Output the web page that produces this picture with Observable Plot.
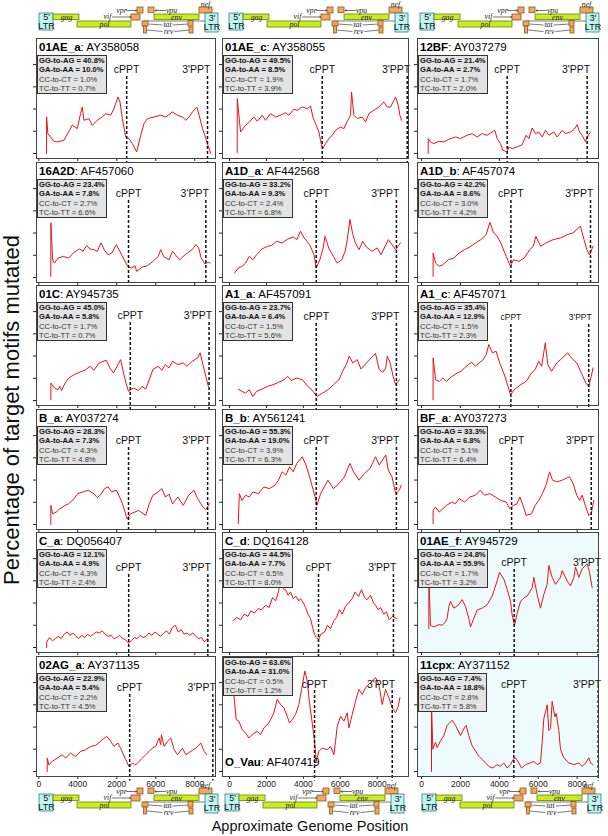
<!DOCTYPE html>
<html><head><meta charset="utf-8">
<script src="https://cdn.jsdelivr.net/npm/d3@7"></script>
<script src="https://cdn.jsdelivr.net/npm/@observablehq/plot@0.6"></script>
<style>
body{margin:0;background:#fff;font-family:"Liberation Sans",Arial,sans-serif;}
#chart{position:relative;width:608px;height:836px;overflow:hidden;background:#fff;}
.title{font-size:11.5px;line-height:14px;white-space:nowrap;color:#000;}
.stats{font-size:7.6px;line-height:9.3px;background:#e3e3e3;border:1px solid #333;padding:0 1px;white-space:nowrap;color:#333;}
.stats b{color:#111;}
.axlab{font-size:14.5px;white-space:nowrap;color:#111;}
</style></head><body><div id="chart"></div>
<script>
// ---------------- data ----------------
const subtypes = ["01AE_a","01AE_c","12BF","16A2D","A1D_a","A1D_b","01C","A1_a","A1_c","B_a","B_b","BF_a","C_a","C_d","01AE_f","02AG_a","O_Vau","11cpx"];
const accessions = ["AY358058","AY358055","AY037279","AF457060","AF442568","AF457074","AY945735","AF457091","AF457071","AY037274","AY561241","AY037273","DQ056407","DQ164128","AY945729","AY371135","AF407419","AY371152"];
const ggToAg = ["40.8","49.5","21.4","23.4","33.2","42.2","45.0","23.7","35.4","28.3","55.3","33.3","12.1","44.5","24.8","22.9","63.6","7.4"];
const gaToAa = ["10.0","8.5","2.7","7.8","9.3","8.6","5.8","6.4","12.9","7.3","19.0","6.8","4.9","7.7","55.9","5.4","31.0","18.8"];
const ccToCt = ["1.0","1.9","1.7","2.7","2.4","3.0","1.7","1.5","1.5","4.3","3.9","5.1","4.3","6.5","1.7","2.2","0.5","2.8"];
const tcToTt = ["0.7","3.9","2.0","6.6","6.8","4.2","0.7","5.6","2.3","4.8","6.3","6.4","2.4","8.0","3.2","4.5","1.2","5.8"];
const cpptPos = [4507,5022,4403,4601,4697,4594,4692,4697,4594,4601,4697,4631,4610,4821,4762,4661,4606,4745];
const ppt3Pos = [8652,9626,8514,8566,9040,8686,8732,9040,8593,8658,9040,8723,8670,8880,9079,8926,8814,9079];
const shadedPanels = ["01AE_f","11cpx"];
const yTicks = [0,20,40,60,80];
const xTicks = [0,2000,4000,6000,8000];
const xTickLabelsCol1 = ["0","4000","2000","6000","8000"];
const xTickLabels = ["0","2000","4000","6000","8000"];

const pos_01AE_a = [396,400,464,773,944,1287,1715,1972,2143,2229,2315,2571,2742,2999,3256,3428,3685,3856,4061,4164,4284,4455,4627,4798,5021,5226,5398,5569,5912,6254,6511,6854,7111,7368,7539,7710,7881,8104,8224,8395,8566,8703,8823];
const pct_01AE_a = [0,32.9,17.9,11.0,10.4,11.9,25.4,22.4,35.9,41.9,29.9,31.4,25.4,29.9,32.9,35.9,34.4,40.4,50.9,46.4,31.4,14.9,13.4,8.9,1.4,16.4,26.9,31.4,32.9,34.4,32.9,37.4,34.4,32.9,29.9,32.9,37.4,41.9,34.4,22.4,13.4,5.9,0];
const pos_01AE_c = [416,420,597,867,1048,1319,1500,1770,1951,2222,2493,2764,3035,3215,3486,3667,3938,4209,4389,4516,4660,4841,4985,5057,5202,5382,5563,5744,6014,6195,6376,6556,6610,6737,6917,7188,7369,7550,7820,8091,8362,8543,8724,8994,9139,9229,9319];
const pct_01AE_c = [0.8,49.4,19.4,25.4,27.8,32.9,29.0,34.4,29.9,35.9,32.9,34.4,36.8,34.4,39.8,38.9,41.9,40.4,42.8,32.9,26.9,19.4,7.4,4.4,8.9,13.4,16.4,20.9,23.9,22.4,29.0,34.4,55.4,34.4,31.4,32.9,28.4,35.9,38.9,41.9,46.4,41.9,41.9,50.9,43.4,34.4,29.9];
const pos_12BF = [343,347,463,634,891,1148,1405,1748,2004,2347,2604,2861,3118,3375,3769,3889,4060,4180,4403,4488,4660,4917,5174,5379,5516,5687,5859,6030,6201,6373,6544,6801,6972,7229,7400,7657,7829,8000,8120,8257,8428,8565,8685];
const pct_12BF = [0,13.4,10.4,8.9,11.0,10.4,12.8,14.9,13.4,16.4,17.9,14.9,17.9,16.4,20.9,13.4,8.9,2.9,1.4,5.9,4.4,5.9,8.0,16.4,13.4,22.9,17.9,19.4,14.9,20.9,16.4,19.4,14.9,20.9,17.9,19.4,21.4,26.0,19.4,16.4,10.4,16.4,19.4];
const pos_16A2D = [616,620,708,800,984,1259,1534,1810,2085,2269,2452,2636,2820,3003,3187,3370,3554,3738,3976,4197,4380,4564,4747,4931,5023,5298,5574,5849,6124,6253,6400,6675,6859,7042,7226,7501,7869,8052,8199,8328,8511,8695,8787];
const pct_16A2D = [0.9,49.2,16.0,13.0,17.5,19.0,17.5,22.7,25.7,23.6,28.7,25.7,25.1,23.6,31.1,24.5,20.5,22.0,29.6,22.0,16.0,10.0,8.5,10.6,5.4,9.4,10.6,14.5,19.0,25.1,19.0,16.0,23.6,19.6,16.0,20.5,25.1,29.6,26.6,17.5,12.4,13.6,13.0];
const pos_A1D_a = [274,473,671,869,1068,1266,1464,1762,2059,2257,2555,2852,3150,3447,3645,3844,4042,4340,4578,4697,4895,5073,5172,5371,5629,5827,6085,6263,6382,6521,6680,6818,7017,7215,7413,7711,8008,8206,8603,8801,8999,9257];
const pct_A1D_a = [3.9,8.5,10.0,13.0,19.0,16.0,20.5,25.7,28.1,28.7,32.6,31.1,34.7,36.5,34.1,41.7,35.6,29.6,20.5,8.5,16.0,26.6,37.1,26.6,19.0,13.0,16.0,23.6,34.1,52.2,38.7,31.1,25.1,32.6,27.5,23.6,26.6,20.5,34.1,29.6,25.1,31.1];
const pos_A1D_b = [595,600,725,911,1097,1376,1655,1934,2213,2492,2771,3050,3329,3515,3701,3887,4073,4352,4575,4724,5003,5282,5561,5747,5877,6119,6398,6770,7142,7514,7793,8165,8351,8500,8630,8816];
const pct_A1D_b = [0.9,22.0,13.0,10.0,11.5,16.0,17.5,22.0,25.1,27.5,31.1,34.1,38.7,49.8,40.2,37.1,31.1,19.0,10.0,16.0,14.5,17.5,25.1,28.1,37.1,28.1,31.1,34.1,35.6,38.7,40.2,46.2,34.1,25.1,20.5,28.1];
const pos_01C = [616,620,800,984,1075,1167,1351,1534,1810,2085,2361,2636,2820,3095,3462,3646,3829,4197,4343,4472,4601,4839,5115,5298,5482,5665,5849,6124,6308,6492,6675,6859,7134,7410,7593,7869,8144,8273,8419,8566,8695];
const pct_01C = [0.6,15.7,11.2,9.7,12.7,9.1,15.7,20.2,23.3,25.4,27.2,30.8,27.2,33.8,36.2,29.3,24.8,36.8,24.8,15.7,8.2,11.2,9.1,12.7,10.3,18.7,27.8,30.8,27.2,32.3,29.3,35.3,32.3,33.8,30.8,35.3,38.4,42.9,32.3,21.7,12.7];
const pos_A1_a = [473,671,869,1068,1266,1464,1762,2059,2357,2654,2951,3150,3348,3645,3943,4240,4538,4736,5034,5331,5629,5926,6124,6323,6481,6680,6917,7116,7413,7909,8107,8305,8464,8543,8702,8861,9000,9198];
const pct_A1_a = [10.3,8.2,6.6,9.7,3.6,8.2,10.3,12.7,14.2,16.3,18.7,21.7,18.1,20.2,18.7,12.7,8.2,3.6,6.6,9.7,14.2,18.7,26.3,32.3,39.9,33.8,36.8,28.4,33.8,42.3,27.8,25.4,29.3,39.9,33.8,21.7,14.2,18.7];
const pos_A1_c = [595,600,725,911,1097,1283,1562,1841,2027,2213,2399,2585,2771,2957,3143,3329,3459,3645,3831,4017,4259,4445,4575,4761,5096,5375,5654,5840,6026,6175,6361,6491,6677,6956,7142,7514,7700,7979,8258,8444,8593,8723,8816];
const pct_A1_c = [0.6,38.4,18.7,17.2,20.2,17.2,21.7,24.8,26.3,29.3,32.3,34.4,30.8,33.8,36.2,41.4,50.4,42.9,44.4,33.8,23.3,12.7,5.1,9.7,14.2,17.2,24.8,27.8,35.3,30.8,51.9,32.3,26.3,33.8,36.8,42.9,38.4,33.8,23.3,15.7,12.7,21.7,29.3];
const pos_B_a = [616,620,708,892,1075,1351,1534,1810,1993,2269,2544,2820,3003,3187,3370,3554,3738,3976,4105,4288,4527,4711,4931,5115,5482,5665,5849,6124,6308,6492,6675,6859,7134,7410,7685,7960,8144,8419,8566,8750];
const pct_B_a = [0,17.2,9.7,11.2,14.2,17.2,18.7,23.3,27.8,29.3,30.8,27.8,24.2,27.2,32.3,33.8,29.3,30.8,26.3,18.7,5.1,9.7,11.2,12.7,8.2,18.7,26.3,29.3,32.3,24.8,27.2,18.7,24.8,17.2,26.3,30.8,23.3,15.7,13.3,18.7];
const pos_B_b = [473,532,671,869,1068,1266,1563,1861,2158,2456,2654,2852,3051,3249,3447,3645,3943,4141,4340,4637,4736,4934,5133,5331,5629,5926,6223,6521,6719,7017,7314,7611,7909,8107,8464,8603,8801,9000,9198,9297];
const pct_B_b = [0.6,27.8,21.7,26.3,24.8,29.3,27.8,33.8,32.3,35.3,39.9,47.4,44.4,51.9,47.4,55.0,61.0,53.5,42.9,24.8,17.2,27.8,33.8,39.9,32.3,36.8,42.9,55.0,47.4,39.9,45.9,50.4,61.0,53.5,62.5,48.9,42.9,27.8,30.8,35.3];
const pos_BF_a = [595,600,725,911,1097,1283,1562,1748,1934,2213,2492,2771,3013,3236,3515,3794,4073,4352,4538,4724,4910,5059,5245,5375,5654,5840,6026,6212,6398,6584,6733,6956,7235,7607,7793,7979,8128,8258,8444,8593,8723,8853];
const pct_BF_a = [0.6,12.7,15.7,11.2,14.2,17.2,20.2,18.7,23.3,20.2,24.8,26.3,30.8,26.3,27.8,24.8,21.7,20.2,14.2,17.2,18.7,24.8,15.7,8.2,9.7,17.2,21.7,27.8,35.3,47.4,39.9,38.4,39.9,42.9,36.8,26.3,21.7,26.3,15.7,8.2,9.7,21.7];
const pos_C_a = [400,405,550,700,850,1000,1150,1300,1450,1600,1750,1900,2050,2200,2350,2500,2650,2800,2950,3100,3250,3400,3550,3700,3850,4000,4150,4300,4450,4600,4750,4900,5050,5200,5350,5500,5650,5800,5950,6100,6250,6400,6550,6700,6850,7000,7150,7300,7450,7600,7750,7900,8050,8200,8350,8500,8650];
const pct_C_a = [0,5,9,6,8,10,8,12,14,11,13,10,8,11,9,12,10,12,14,13,15,12,10,11,8,9,11,8,7,4,6,9,8,11,9,10,13,11,14,12,10,13,15,12,18,20,14,16,12,13,11,13,10,8,9,5,8];
const pos_C_d = [170,400,600,800,1000,1150,1350,1550,1750,1950,2150,2330,2500,2650,2760,2900,3030,3180,3300,3450,3600,3750,3850,4000,4120,4250,4390,4500,4600,4700,4820,4950,5150,5300,5470,5650,5800,5950,6100,6280,6450,6650,6800,6990,7150,7310,7450,7640,7800,7910,8050,8180,8350,8500,8650,8830,9050];
const pct_C_d = [24,27,25,30,28,33,31,35,34,38,36,45,42,50,60,53,52,47,50,44,46,42,44,40,36,30,26,18,12,9,7,12,14,20,17,24,27,34,30,37,40,44,50,46,52,45,43,47,40,38,34,36,30,32,25,28,26];
const pos_01AE_f = [377,380,463,634,891,1062,1234,1319,1405,1491,1662,1919,2090,2261,2433,2518,2690,2861,3118,3375,3632,3889,4009,4231,4403,4574,4660,4780,4917,5088,5259,5430,5687,5773,5944,6116,6287,6458,6544,6715,6887,7143,7229,7486,7657,7829,7914,8086,8257,8514,8634,8771];
const pct_01AE_f = [16.9,63.1,20.0,18.5,20.6,20.0,23.1,26.2,36.9,41.5,35.4,38.5,43.1,36.9,26.2,18.5,26.2,33.8,35.4,38.5,46.2,60.0,67.7,61.5,52.3,41.5,29.2,20.0,30.8,41.5,44.6,46.2,53.8,63.1,47.7,35.4,47.7,56.9,73.8,63.1,56.9,63.1,69.2,60.0,55.4,63.1,72.3,63.1,70.8,75.4,67.7,53.8];
const pos_02AG_a = [430,435,516,687,944,1201,1372,1629,1886,2143,2400,2657,2914,3171,3479,3685,3856,4061,4233,4455,4627,4798,4969,5141,5312,5483,5655,5826,5997,6168,6254,6288,6425,6597,6768,6939,7111,7368,7539,7796,8053,8310,8481,8618];
const pct_02AG_a = [0,12.1,6.0,9.1,12.1,15.1,12.1,16.6,13.6,18.1,19.6,22.6,23.5,27.2,31.7,27.2,22.6,25.6,19.6,10.6,4.5,7.5,6.0,9.1,12.1,15.1,18.1,21.1,22.6,30.2,24.1,33.2,22.6,27.2,30.2,19.6,15.1,21.1,15.1,18.1,21.1,25.6,18.1,15.1];
const pos_O_Vau = [181,235,362,506,687,867,1048,1229,1500,1680,1861,2132,2403,2583,2764,2944,3125,3251,3396,3576,3757,3901,4082,4209,4335,4479,4606,4696,4841,5021,5292,5473,5653,5744,5834,6015,6195,6376,6466,6647,6827,7008,7188,7369,7640,7911,8091,8272,8453,8633,8814,8994,9139,9229];
const pct_O_Vau = [84.5,69.4,46.8,45.3,37.7,34.7,30.2,33.2,36.2,33.2,39.2,43.7,52.8,64.9,60.3,57.3,49.8,43.7,46.8,51.3,60.3,73.9,90.5,81.5,61.8,43.7,27.2,9.1,18.1,21.1,19.6,22.6,15.1,27.2,40.7,49.8,45.3,52.8,39.2,51.3,63.4,73.9,69.4,75.4,80.0,84.5,78.4,60.3,73.9,66.4,57.3,52.8,58.8,66.4];
const pos_11cpx = [514,518,583,720,805,977,1148,1319,1491,1576,1748,1919,2004,2227,2296,2433,2604,2775,2947,3118,3289,3461,3666,3889,4060,4231,4403,4574,4711,4831,5002,5139,5345,5602,5773,5944,6116,6201,6287,6373,6458,6544,6630,6715,6852,6921,7058,7143,7315,7572,7829,8086,8257,8428,8600,8685,8805];
const pct_11cpx = [0,58.5,20.0,26.2,21.5,27.7,32.3,41.5,44.6,46.2,41.5,35.4,32.3,40.0,41.5,32.3,23.1,18.5,13.8,10.8,7.7,4.6,3.1,6.2,4.6,7.7,3.1,6.2,10.8,12.3,7.7,3.1,6.2,7.7,9.2,6.2,7.7,26.2,47.7,53.8,60.0,36.9,38.5,63.1,49.2,52.3,36.9,20.0,12.3,7.7,6.2,7.7,4.6,7.7,12.3,7.7,6.2];

const traces = {
  "01AE_a":[pos_01AE_a,pct_01AE_a],"01AE_c":[pos_01AE_c,pct_01AE_c],"12BF":[pos_12BF,pct_12BF],
  "16A2D":[pos_16A2D,pct_16A2D],"A1D_a":[pos_A1D_a,pct_A1D_a],"A1D_b":[pos_A1D_b,pct_A1D_b],
  "01C":[pos_01C,pct_01C],"A1_a":[pos_A1_a,pct_A1_a],"A1_c":[pos_A1_c,pct_A1_c],
  "B_a":[pos_B_a,pct_B_a],"B_b":[pos_B_b,pct_B_b],"BF_a":[pos_BF_a,pct_BF_a],
  "C_a":[pos_C_a,pct_C_a],"C_d":[pos_C_d,pct_C_d],"01AE_f":[pos_01AE_f,pct_01AE_f],
  "02AG_a":[pos_02AG_a,pct_02AG_a],"O_Vau":[pos_O_Vau,pct_O_Vau],"11cpx":[pos_11cpx,pct_11cpx]
};

// genome map (schematic units)
const mapGenes = [
  {name:"5'LTR",kind:"ltr",x1:0,x2:14,y1:13,y2:30},
  {name:"gag",kind:"orf",x1:14,x2:40,y1:14,y2:19.5},
  {name:"pol",kind:"orf",x1:38,x2:92,y1:21,y2:27},
  {name:"vif",kind:"acc",x1:92,x2:101,y1:14,y2:20},
  {name:"vpr",kind:"acc",x1:98,x2:104,y1:7,y2:13},
  {name:"tat1",kind:"acc",x1:103,x2:109,y1:21,y2:26},
  {name:"rev1",kind:"acc",x1:104.5,x2:107.5,y1:26,y2:33},
  {name:"vpu",kind:"acc",x1:109,x2:115,y1:7,y2:12.5},
  {name:"env",kind:"orf",x1:115,x2:160,y1:14,y2:19.5},
  {name:"tat2",kind:"acc",x1:149,x2:154,y1:20.5,y2:26},
  {name:"rev2",kind:"acc",x1:150,x2:154,y1:27,y2:33},
  {name:"nef",kind:"acc",x1:160,x2:173,y1:7,y2:13},
  {name:"3'LTR",kind:"ltr",x1:166,x2:179,y1:13,y2:32}
];
const mapItalicLabels = [
  {t:"gag",x:27,y:16.9},{t:"pol",x:65,y:24.2},{t:"env",x:137,y:16.9},
  {t:"vif",x:68,y:16},{t:"vpr",x:82,y:9.5},{t:"vpu",x:132,y:9.5},
  {t:"nef",x:166,y:3.5},{t:"tat",x:128,y:23.8},{t:"rev",x:129,y:31.2}
];
const mapLtrLabels = [{t:"5'\nLTR",x:7,y:21.5},{t:"3'\nLTR",x:172.5,y:22.5}];
const mapArrows = [{x1:73,y1:16.5,x2:91.5,y2:16.5},{x1:87,y1:10,x2:97.5,y2:10},{x1:126,y1:10,x2:115.5,y2:10}];
const mapLinks = [{x1:104,y1:20.5,x2:166,y2:20.5},{x1:109,y1:23.5,x2:123,y2:24.5},{x1:133,y1:24.5,x2:149,y2:23.5},
  {x1:107.5,y1:29.5,x2:123,y2:31},{x1:135,y1:31,x2:150,y2:29.5}];

// ---------------- layout ----------------
const chart = document.getElementById("chart");
const colFrame = [[36,215],[222,408],[417,598]];
const colDomain = [[-118,9062],[-380,9695],[-205,9096]];
const FH = 120;
const yDomain = [-4.5,103.5];
const pxPerUnit = (yDomain[1]-yDomain[0])/FH;
const labelOff = [31,31,31, 31,31,31, 30,31,32, 31,31,31, 35,35,30, 31,28,28];
const lineOff  = [38,38,38, 38,38,38, 37,38,39, 38,38,38, 42,42,37, 38,34,34];
const labelSize = subtypes.map(s => s==="A1_c" ? 8.5 : 10.5);
const FONT = "Liberation Sans, Arial, sans-serif";

function place(el, left, top){ el.style.position="absolute"; el.style.left=left+"px"; el.style.top=top+"px"; chart.appendChild(el); return el; }

subtypes.forEach((name,i)=>{
  const r = Math.floor(i/3), c = i%3;
  const [fl, fr] = colFrame[c];
  const top = Math.round(38 + 123.6*r);
  const bottomRow = r===5;
  const mL = 4, mB = bottomRow ? 16 : 4;
  const [px, py] = traces[name];
  const rows = px.map((p,k)=>({bp:p, pct:py[k]}));
  const bg = shadedPanels.includes(name) ? "#edfbfc" : "#ffffff";
  const labs = c===0 ? xTickLabelsCol1 : xTickLabels;
  const labMap = new Map(xTicks.map((t,k)=>[t,labs[k]]));
  const vAt = off => yDomain[1] - off*pxPerUnit;
  const svg = Plot.plot({
    width: fr-fl+mL, height: FH+mB,
    marginLeft:mL, marginRight:0, marginTop:0, marginBottom:mB,
    x:{domain:colDomain[c]}, y:{domain:yDomain},
    style:{background:"transparent", overflow:"visible", fontFamily:FONT, color:"#222"},
    marks:[
      Plot.frame({fill:bg, stroke:"none"}),
      Plot.axisY({ticks:yTicks, tickSize:3, tickFormat:()=>"", label:null}),
      Plot.axisX({ticks:xTicks, tickSize:3, tickPadding:1, fontSize:8.5, label:null,
                  tickFormat: bottomRow ? (d=>labMap.get(d)) : (()=>"")}),
      Plot.line(rows,{x:"bp", y:"pct", stroke:"#e8141c", strokeWidth:1}),
      Plot.ruleX([cpptPos[i], ppt3Pos[i]],{x:d=>d, y1:vAt(lineOff[i]), y2:yDomain[0]-4, stroke:"#111", strokeWidth:1.5, strokeDasharray:"3,2"}),
      Plot.text([cpptPos[i]],{x:d=>d, frameAnchor:"top", dy:labelOff[i], lineAnchor:"middle", text:()=>"cPPT", fontSize:labelSize[i], fill:"#111"}),
      Plot.text([ppt3Pos[i]],{x:d=>d, frameAnchor:"top", dy:labelOff[i], lineAnchor:"middle", text:()=>"3'PPT", fontSize:labelSize[i], textAnchor:"end", dx:3, fill:"#111"}),
      Plot.frame({stroke:"#444", strokeWidth:1})
    ]
  });
  place(svg, fl-mL, top);

  const isOV = name==="O_Vau";
  const title = document.createElement("div");
  title.className = "title";
  title.innerHTML = `<b>${name}</b>: ${accessions[i]}`;
  place(title, fl+3, top + (isOV ? 99 : 2));

  const box = document.createElement("div");
  box.className = "stats";
  box.innerHTML = `<b>GG-to-AG = ${ggToAg[i]}%</b><br><b>GA-to-AA = ${gaToAa[i]}%</b><br>CC-to-CT = ${ccToCt[i]}%<br>TC-to-TT = ${tcToTt[i]}%`;
  place(box, fl+1, top + (isOV ? 1 : 17));
});

// genome maps
const kindFill = {ltr:"#bff5ef", orf:"#c9ee1e", acc:"#f3a75c"};
const kindStroke = {ltr:"#2f7f7a", orf:"#6f7e16", acc:"#8a5822"};
function geneMap(x0, y0){
  const svg = Plot.plot({
    width:186, height:36, margin:0,
    x:{domain:[0,186], range:[0,186], axis:null}, y:{domain:[0,36], range:[0,36], axis:null},
    style:{background:"transparent", overflow:"visible", fontFamily:FONT},
    marks:[
      Plot.link(mapLinks,{x1:"x1",y1:"y1",x2:"x2",y2:"y2",stroke:"#444",strokeWidth:0.7}),
      Plot.arrow(mapArrows,{x1:"x1",y1:"y1",x2:"x2",y2:"y2",stroke:"#333",strokeWidth:0.7,headLength:3}),
      Plot.rect(mapGenes,{x1:"x1",x2:"x2",y1:"y1",y2:"y2",fill:d=>kindFill[d.kind],stroke:d=>kindStroke[d.kind],strokeWidth:0.8}),
      Plot.text(mapItalicLabels,{x:"x",y:"y",text:"t",fontStyle:"italic",fontFamily:"Liberation Serif, Times, serif",fontSize:7.8,fill:"#222"}),
      Plot.text(mapLtrLabels,{x:"x",y:"y",text:"t",fontSize:9,lineHeight:1,fill:"#111"})
    ]
  });
  place(svg, x0, y0);
}
[[39,0],[229,0],[420,0],[39,781],[225,781],[422,781]].forEach(([x,y])=>geneMap(x,y));

// axis titles
const yl = document.createElement("div");
yl.className = "axlab";
yl.style.fontSize = "22px";
yl.textContent = "Percentage of target motifs mutated";
yl.style.transform = "translate(-50%,-50%) rotate(-90deg)";
place(yl, 12, 410);
const xl = document.createElement("div");
xl.className = "axlab";
xl.textContent = "Approximate Genome Position";
xl.style.transform = "translate(-50%,-50%)";
place(xl, 310, 826);
</script></body></html>
